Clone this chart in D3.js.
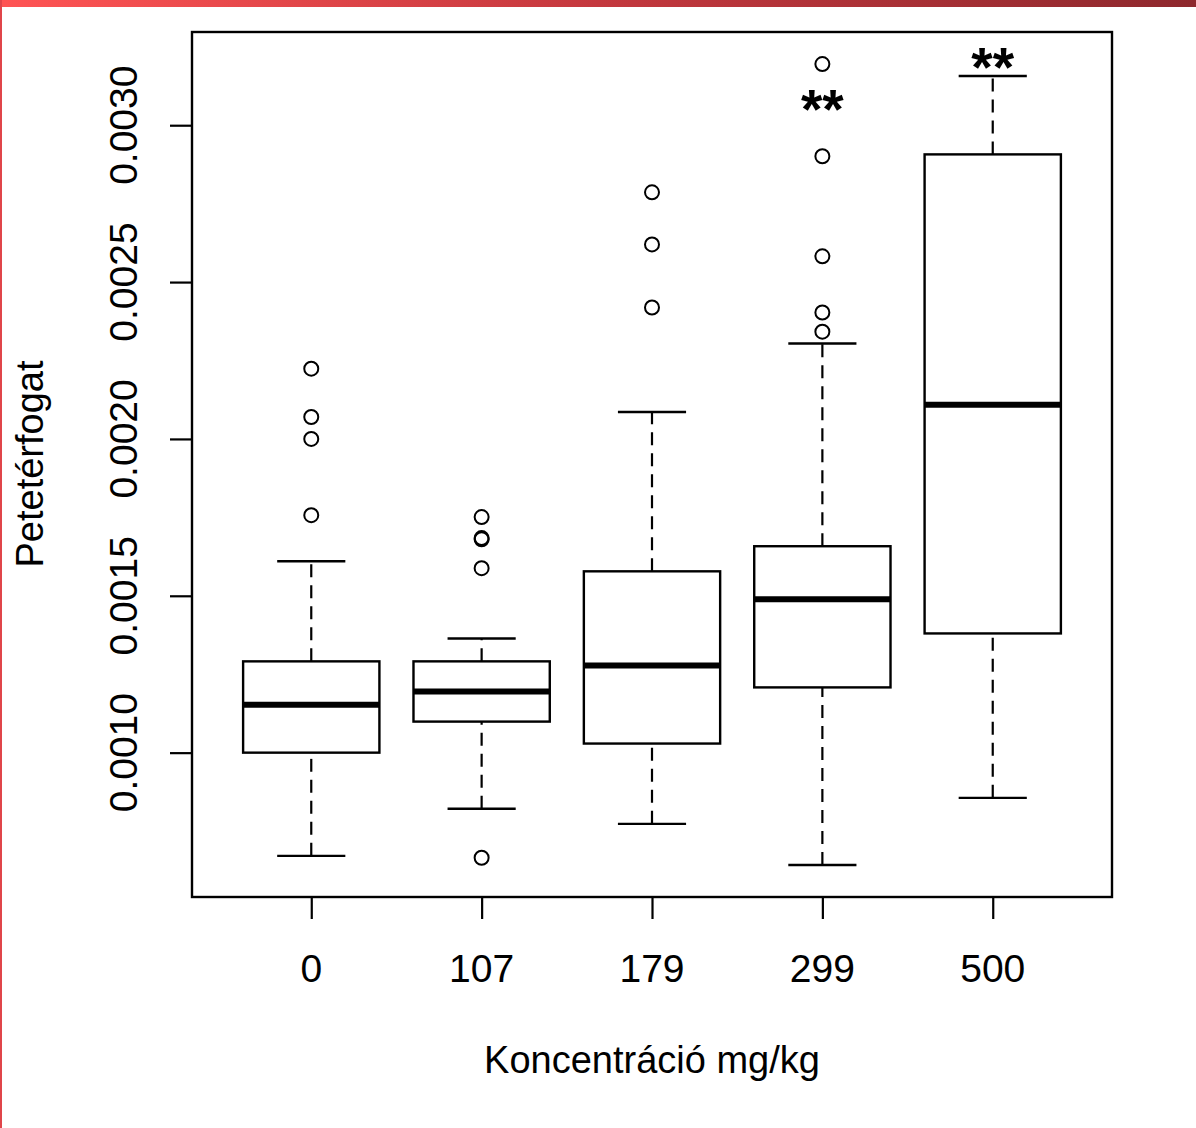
<!DOCTYPE html>
<html>
<head>
<meta charset="utf-8">
<script src="https://cdn.jsdelivr.net/npm/d3@7"></script>
<style>
  html, body { margin: 0; padding: 0; background: #fff; }
  svg { display: block; }
  text { font-family: "Liberation Sans", Arial, sans-serif; fill: #000; }
</style>
</head>
<body>
<svg id="chart" width="1196" height="1128"></svg>
<script>
// Egg volume by concentration group (boxplot statistics)
const categories = ["0", "107", "179", "299", "500"];
const whiskerLow  = [0.000671, 0.000821, 0.000773, 0.000642, 0.000856];
const quartile1   = [0.001000, 0.001099, 0.001029, 0.001208, 0.001380];
const medians     = [0.001153, 0.001195, 0.001278, 0.001489, 0.002109];
const quartile3   = [0.001291, 0.001291, 0.001578, 0.001658, 0.002907];
const whiskerHigh = [0.001610, 0.001364, 0.002086, 0.002304, 0.003157];
const outliers = [
  [0.002224, 0.002070, 0.002000, 0.001757],
  [0.001751, 0.001684, 0.001680, 0.001588, 0.000665],
  [0.002786, 0.002620, 0.002419],
  [0.003195, 0.002901, 0.002582, 0.002403, 0.002342],
  []
];
const yTicks = [0.0010, 0.0015, 0.0020, 0.0025, 0.0030];
// significance marks: group index and the value they sit at
const sigGroups = [3, 4];
const sigValues = [0.003080, 0.003213];
const sigLabels = ["**", "**"];

const svg = d3.select("#chart");
const W = 1196, H = 1128;

// frame decoration
const grad = svg.append("defs").append("linearGradient")
  .attr("id", "topbar").attr("x1", "0%").attr("x2", "100%");
grad.append("stop").attr("offset", "0%").attr("stop-color", "#ff5454");
grad.append("stop").attr("offset", "50%").attr("stop-color", "#c4383e");
grad.append("stop").attr("offset", "100%").attr("stop-color", "#8e282d");
svg.append("rect").attr("x", 0).attr("y", 0).attr("width", W).attr("height", 7)
  .attr("fill", "url(#topbar)");
svg.append("rect").attr("x", 0).attr("y", 0).attr("width", 2).attr("height", H)
  .attr("fill", "#e0454a");

const plot = { left: 192, top: 32, right: 1112, bottom: 897 };

// value range extended by 4% on each side
const allVals = whiskerLow.concat(whiskerHigh, outliers.flat());
const lo = d3.min(allVals), hi = d3.max(allVals);
const pad = (hi - lo) * 0.04;
const y = d3.scaleLinear().domain([lo - pad, hi + pad]).range([plot.bottom, plot.top]);

const n = categories.length;
const xPad = n * 0.04;
const x = d3.scaleLinear().domain([0.5 - xPad, n + 0.5 + xPad]).range([plot.left, plot.right]);

const boxHalf = 0.4, capHalf = 0.2;

const g = svg.append("g");

categories.forEach((c, i) => {
  const cx = x(i + 1);
  const grp = g.append("g");
  // whiskers
  grp.append("line").attr("x1", cx).attr("x2", cx)
    .attr("y1", y(whiskerLow[i])).attr("y2", y(quartile1[i]))
    .attr("stroke", "#000").attr("stroke-width", 2.2).attr("stroke-dasharray", "13,8");
  grp.append("line").attr("x1", cx).attr("x2", cx)
    .attr("y1", y(quartile3[i])).attr("y2", y(whiskerHigh[i]))
    .attr("stroke", "#000").attr("stroke-width", 2.2).attr("stroke-dasharray", "13,8");
  // caps
  [whiskerLow[i], whiskerHigh[i]].forEach(v => {
    grp.append("line")
      .attr("x1", x(i + 1 - capHalf)).attr("x2", x(i + 1 + capHalf))
      .attr("y1", y(v)).attr("y2", y(v))
      .attr("stroke", "#000").attr("stroke-width", 2.4);
  });
  // box
  grp.append("rect")
    .attr("x", x(i + 1 - boxHalf)).attr("width", x(i + 1 + boxHalf) - x(i + 1 - boxHalf))
    .attr("y", y(quartile3[i])).attr("height", y(quartile1[i]) - y(quartile3[i]))
    .attr("fill", "#fff").attr("stroke", "#000").attr("stroke-width", 2.4);
  // median
  grp.append("line")
    .attr("x1", x(i + 1 - boxHalf)).attr("x2", x(i + 1 + boxHalf))
    .attr("y1", y(medians[i])).attr("y2", y(medians[i]))
    .attr("stroke", "#000").attr("stroke-width", 6);
  // outliers
  grp.selectAll("circle").data(outliers[i]).enter().append("circle")
    .attr("cx", cx).attr("cy", d => y(d)).attr("r", 7)
    .attr("fill", "none").attr("stroke", "#000").attr("stroke-width", 2);
});

// significance stars
sigGroups.forEach((gi, k) => {
  g.append("text")
    .attr("x", x(gi + 1)).attr("y", y(sigValues[k]) + 28)
    .attr("text-anchor", "middle")
    .attr("font-size", 55).attr("font-weight", "bold")
    .text(sigLabels[k]);
});

// plot frame
svg.append("rect")
  .attr("x", plot.left).attr("y", plot.top)
  .attr("width", plot.right - plot.left).attr("height", plot.bottom - plot.top)
  .attr("fill", "none").attr("stroke", "#000").attr("stroke-width", 2.4);

// y axis
const yAxis = svg.append("g").attr("transform", `translate(${plot.left},0)`)
  .call(d3.axisLeft(y).tickValues(yTicks).tickSize(22).tickFormat(d3.format(".4f")));
yAxis.select(".domain").remove();
yAxis.selectAll(".tick line").attr("stroke", "#000").attr("stroke-width", 2.2);
yAxis.selectAll(".tick text").remove();
yTicks.forEach(t => {
  svg.append("text")
    .attr("transform", `translate(137,${y(t)}) rotate(-90)`)
    .attr("text-anchor", "middle").attr("font-size", 39)
    .text(d3.format(".4f")(t));
});

// x axis
const xAxis = svg.append("g").attr("transform", `translate(0,${plot.bottom})`)
  .call(d3.axisBottom(x).tickValues(d3.range(1, n + 1)).tickSize(22)
    .tickFormat(d => categories[d - 1]));
xAxis.select(".domain").remove();
xAxis.selectAll(".tick line").attr("stroke", "#000").attr("stroke-width", 2.2);
xAxis.selectAll(".tick text").remove();
categories.forEach((c, i) => {
  svg.append("text")
    .attr("x", x(i + 1)).attr("y", 982)
    .attr("text-anchor", "middle").attr("font-size", 39)
    .text(c);
});

// axis titles
svg.append("text")
  .attr("x", (plot.left + plot.right) / 2).attr("y", 1073)
  .attr("text-anchor", "middle").attr("font-size", 38)
  .text("Koncentráció mg/kg");
svg.append("text")
  .attr("transform", `translate(43,464) rotate(-90)`)
  .attr("text-anchor", "middle").attr("font-size", 38)
  .text("Petetérfogat");
</script>
</body>
</html>
